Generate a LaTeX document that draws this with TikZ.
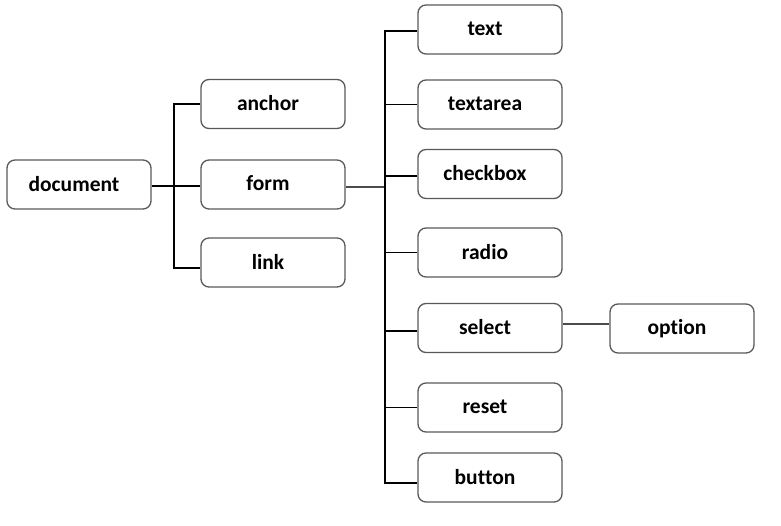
\documentclass[tikz,border=0pt]{standalone}
\usepackage{fontspec}
\setmainfont{Carlito}[Ligatures={NoCommon}]
\newcommand{\lbl}[1]{\raisebox{2pt}{#1}\hspace*{10pt}}
\begin{document}
\begin{tikzpicture}[x=1pt,y=-1pt,
  box/.style={draw=black!65, line width=1.3pt, rounded corners=8pt,
    minimum width=144pt, minimum height=49pt, inner sep=0pt,
    font=\fontsize{21.5}{24}\selectfont\bfseries},
  link/.style={draw=black, line width=1.2pt}]
\useasboundingbox (0,0) rectangle (781,526);
% left column
\node[box] (doc) at (79,184.5) {\lbl{document}};
% middle column
\node[box] (anchor) at (273,104) {\lbl{anchor}};
\node[box] (form) at (273,184.5) {\lbl{form}};
\node[box] (link) at (273,262.5) {\lbl{link}};
% form elements
\node[box] (text) at (490,29.5) {\lbl{text}};
\node[box] (textarea) at (490,104.5) {\lbl{textarea}};
\node[box] (checkbox) at (490,174) {\lbl{checkbox}};
\node[box] (radio) at (490,252.5) {\lbl{radio}};
\node[box] (select) at (490,328) {\lbl{select}};
\node[box] (reset) at (490,407.5) {\lbl{reset}};
\node[box] (button) at (490,477.5) {\lbl{button}};
\node[box] (option) at (682,328.5) {\lbl{option}};
% connector end points on the box sides
\coordinate (docE) at ([yshift=-1.5pt]doc.east);
\coordinate (formW) at ([yshift=-1.5pt]form.west);
\coordinate (formE) at ([yshift=-2.5pt]form.east);
\coordinate (linkW) at ([yshift=-5.5pt]link.west);
\coordinate (textW) at ([yshift=-1.5pt]text.west);
\coordinate (checkW) at ([yshift=-2pt]checkbox.west);
\coordinate (selectW) at ([yshift=-3pt]select.west);
\coordinate (buttonW) at ([yshift=-5.5pt]button.west);
\coordinate (selectE) at ([yshift=4pt]select.east);
% trunk positions
\coordinate (t1) at (174,0);
\coordinate (t2) at (385,0);
\draw[link] (docE) -- (formW);
\draw[link] (anchor.west) -| (t1 |- linkW) -- (linkW);
\draw[link, draw=black!70, line width=1.4pt] (formE) -- (t2 |- formE);
\draw[link] (textW) -| (t2 |- buttonW) -- (buttonW);
\draw[link] (textarea.west) -- (t2 |- textarea.west);
\draw[link] (checkW) -- (t2 |- checkW);
\draw[link] (radio.west) -- (t2 |- radio.west);
\draw[link] (selectW) -- (t2 |- selectW);
\draw[link] (reset.west) -- (t2 |- reset.west);
\draw[link, draw=black!70] (selectE) -- (option.west |- selectE);
\end{tikzpicture}
\end{document}
